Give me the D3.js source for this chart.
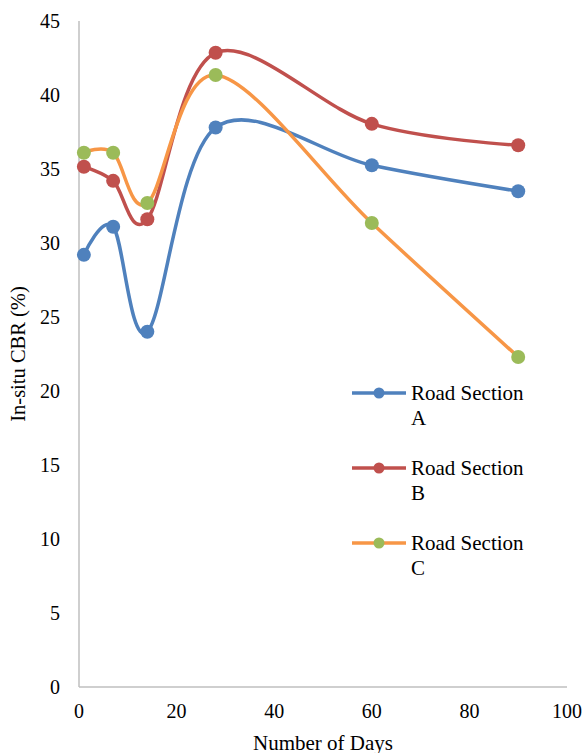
<!DOCTYPE html>
<html><head><meta charset="utf-8">
<script src="https://cdn.jsdelivr.net/npm/d3@7"></script>
<style>body{margin:0;background:#fff}svg{display:block}text{font-family:"Liberation Serif","Times New Roman",serif;fill:#000}</style>
</head><body>
<script>
const days = [1, 7, 14, 28, 60, 90];
const seriesNames = ["Road Section A", "Road Section B", "Road Section C"];
const sectionA = [29.2, 31.1, 24.0, 37.8, 35.25, 33.5];
const sectionB = [35.15, 34.2, 31.6, 42.85, 38.05, 36.6];
const sectionC = [36.1, 36.1, 32.7, 41.35, 31.35, 22.3];
const xTicks = [0, 20, 40, 60, 80, 100];
const yTicks = [0, 5, 10, 15, 20, 25, 30, 35, 40, 45];

const W = 582, H = 753;
const svg = d3.select("body").append("svg").attr("width", W).attr("height", H);
const x = d3.scaleLinear().domain([0, 100]).range([79, 567]);
const y = d3.scaleLinear().domain([0, 45]).range([687, 21]);

// axes
svg.append("line").attr("x1", x(0)).attr("x2", x(0)).attr("y1", y(45)).attr("y2", y(0))
  .attr("stroke", "#BFBFBF").attr("stroke-width", 1.5);
svg.append("line").attr("x1", x(0)).attr("x2", x(100)).attr("y1", y(0)).attr("y2", y(0))
  .attr("stroke", "#BFBFBF").attr("stroke-width", 1.5);

svg.selectAll(".yt").data(yTicks).enter().append("text")
  .attr("x", 60).attr("y", d => y(d)).attr("dy", "0.35em")
  .attr("text-anchor", "end").attr("font-size", 20).text(d => d);
svg.selectAll(".xt").data(xTicks).enter().append("text")
  .attr("x", d => x(d)).attr("y", 718)
  .attr("text-anchor", "middle").attr("font-size", 20).text(d => d);

svg.append("text").attr("x", (x(0) + x(100)) / 2).attr("y", 750)
  .attr("text-anchor", "middle").attr("font-size", 21).text("Number of Days");
svg.append("text").attr("transform", `translate(25,${(y(0) + y(45)) / 2}) rotate(-90)`)
  .attr("text-anchor", "middle").attr("font-size", 20.5).text("In-situ CBR (%)");

const series = [
  {name: seriesNames[0], values: sectionA, line: "#4F81BD", marker: "#4F81BD"},
  {name: seriesNames[1], values: sectionB, line: "#C0504D", marker: "#C0504D"},
  {name: seriesNames[2], values: sectionC, line: "#F79646", marker: "#9BBB59"}
];

const lineGen = d3.line().x(d => x(d[0])).y(d => y(d[1])).curve(d3.curveCardinal.tension(0));

series.forEach(s => {
  const pts = days.map((d, i) => [d, s.values[i]]);
  svg.append("path").attr("d", lineGen(pts)).attr("fill", "none")
    .attr("stroke", s.line).attr("stroke-width", 3.5).attr("stroke-linejoin", "round");
  svg.selectAll(null).data(pts).enter().append("circle")
    .attr("cx", d => x(d[0])).attr("cy", d => y(d[1])).attr("r", 7).attr("fill", s.marker);
});

// legend
series.forEach((s, i) => {
  const ly = 393 + i * 75;
  const g = svg.append("g");
  g.append("line").attr("x1", 352).attr("x2", 406).attr("y1", ly).attr("y2", ly)
    .attr("stroke", s.line).attr("stroke-width", 3.5);
  g.append("circle").attr("cx", 379).attr("cy", ly).attr("r", 5.5).attr("fill", s.marker);
  const parts = s.name.split(" ");
  g.append("text").attr("x", 411).attr("y", ly + 7).attr("font-size", 21).text(parts[0] + " " + parts[1]);
  g.append("text").attr("x", 411).attr("y", ly + 32).attr("font-size", 21).text(parts[2]);
});
</script>
</body></html>
